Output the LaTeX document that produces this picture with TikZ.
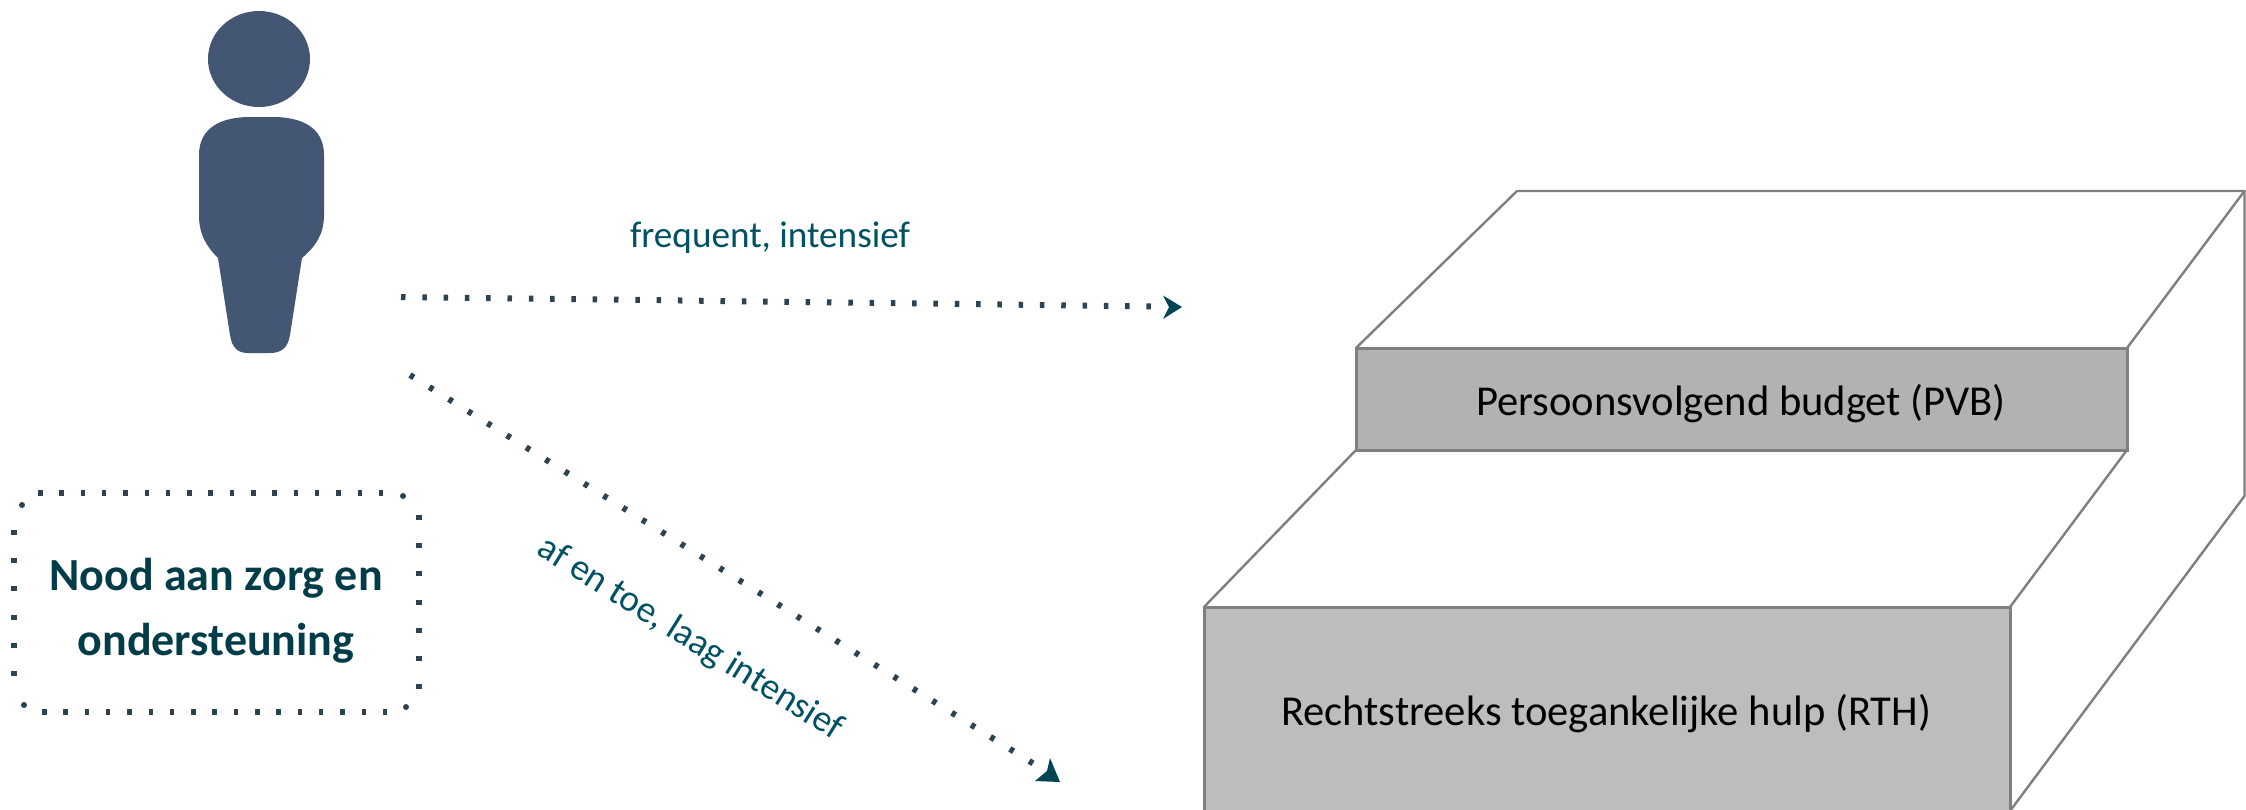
\documentclass[tikz,border=0pt]{standalone}
\usepackage{fontspec}
\setmainfont{Carlito}
\usetikzlibrary{arrows.meta}
\definecolor{person}{HTML}{435673}
\definecolor{teal}{HTML}{005162}
\definecolor{dots}{HTML}{2F4250}
\definecolor{edgegray}{HTML}{7F7F7F}
\tikzset{
  x=1pt,y=-1pt,
  face/.style={draw=edgegray,line width=3pt,inner sep=0pt,outer sep=0pt,anchor=north west,text=black},
  edge3d/.style={draw=edgegray,line width=2.4pt,line cap=round,line join=round},
  tealtext/.style={text=teal,font=\fontsize{37.2}{42}\selectfont,inner sep=0pt},
  needtext/.style={text=teal!75!black,font=\fontsize{46}{65}\selectfont\bfseries,align=center,inner sep=0pt},
  steptext/.style={font=\fontsize{42.6}{48}\selectfont,inner sep=0pt},
  dotrow/.style={draw=dots,line width=6pt},
  chev/.style={draw=none,fill=teal!85!black},
}
\begin{document}
\begin{tikzpicture}
\useasboundingbox (0,0) rectangle (2246,809);
% person
\fill[person] (259,59) ellipse [x radius=51,y radius=48];
\fill[person] (199,155) .. controls (199,127) and (222,117) .. (250,117)
  -- (273,117) .. controls (301,117) and (324,127) .. (324,155)
  -- (324,215) .. controls (324,234) and (316,246) .. (302,258)
  -- (290,335) .. controls (288,348) and (281,353) .. (270,353)
  -- (248,353) .. controls (238,353) and (232,348) .. (230,335)
  -- (218,258) .. controls (206,246) and (199,234) .. (199,215) -- cycle;
% need box
\node[needtext] (need) at (216,611) {Nood aan zorg en\\ondersteuning};
\coordinate (bt1) at (38,493);   \coordinate (bt2) at (386,493);
\coordinate (br1) at (419,515);  \coordinate (br2) at (419,690);
\coordinate (bl1) at (13.5,530); \coordinate (bl2) at (13.5,676);
\coordinate (bb1) at (42,712);   \coordinate (bb2) at (388,712);
\draw[dotrow,dash pattern=on 4.5pt off 16.8pt] (bt1) -- (bt2);
\draw[dotrow,dash pattern=on 4.5pt off 16.8pt] (bb1) -- (bb2);
\draw[dotrow,dash pattern=on 5pt off 23.2pt] (br1) -- (br2);
\draw[dotrow,dash pattern=on 5pt off 23.2pt] (bl1) -- (bl2);
\coordinate (c1) at (22,505); \coordinate (c2) at (403,496);
\coordinate (c3) at (406,707); \coordinate (c4) at (24,705);
\foreach \c in {c1,c2,c3,c4} \fill[dots] (\c) circle (3);
% arrows
\coordinate (h1) at (401,297); \coordinate (h2) at (1161,306.5);
\coordinate (d1) at (410,375); \coordinate (d2) at (1042,769);
\draw[dotrow,dash pattern=on 4.5pt off 16.8pt] (h1) -- (h2);
\draw[dotrow,dash pattern=on 4.5pt off 18.3pt] (d1) -- (d2);
\coordinate (h3) at (1182,307);
\fill[chev] (1163,295.5) -- (h3) -- (1163,319) -- (1169,307) -- cycle;
\fill[chev] (1050,758) -- (1060,782) -- (1035,781) -- (1047,771) -- cycle;
\node[tealtext] (lab1) at (770,238) {frequent, intensief};
\node[tealtext,rotate=-32] (lab2) at (690,639) {af en toe, laag intensief};
% steps
\coordinate (tl) at (1517,191); \coordinate (tr) at (2244.5,191);
\coordinate (rm) at (2244.5,496);
\node[face,fill=black!30,minimum width=771pt,minimum height=102pt] (pvb) at (1356,348) {};
\node[face,fill=black!26,minimum width=806pt,minimum height=204pt] (rth) at (1204,607) {};
\node[steptext] (pvbt) at (1741,404) {Persoonsvolgend budget (PVB)};
\node[steptext] (rtht) at (1606,714) {Rechtstreeks toegankelijke hulp (RTH)};
\draw[edge3d] (pvb.north west) -- (tl) -- (tr) -- (pvb.north east);
\draw[edge3d] (tr) -- (rm) -- (rth.south east);
\draw[edge3d] (pvb.south west) -- (rth.north west);
\draw[edge3d] (pvb.south east) -- (rth.north east);
\end{tikzpicture}
\end{document}
